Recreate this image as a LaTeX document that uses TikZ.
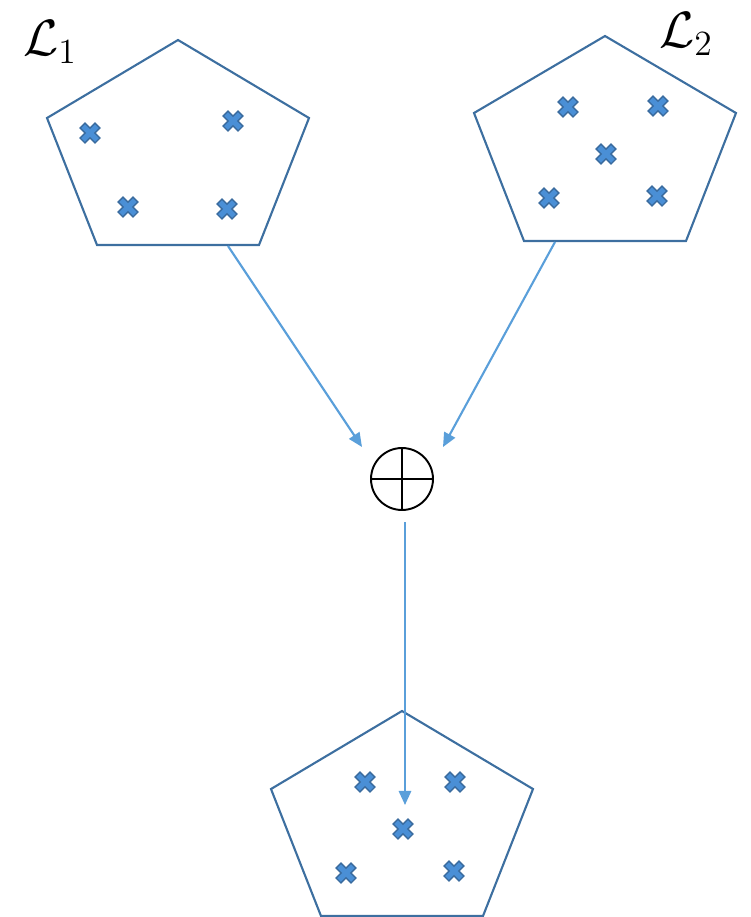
\documentclass[tikz,border=0pt]{standalone}
\usepackage{amsmath}
\usepackage{amssymb}
\usetikzlibrary{arrows.meta}
\definecolor{penblue}{HTML}{3D6FA0}
\definecolor{arrblue}{HTML}{5A9FDA}
\definecolor{crossfill}{HTML}{4A8FD6}
\definecolor{crossdraw}{HTML}{3A6B9E}

\begin{document}
\begin{tikzpicture}[
  x=0.02cm, y=-0.02cm,
  pent/.style={draw=penblue, line width=1.2pt, line join=miter},
  arr/.style={-{Triangle[length=8pt, width=7pt]}, draw=arrblue,
              line width=1.2pt},
  lab/.style={font=\huge, scale=1.4, inner sep=0pt},
  sumnode/.style={circle, draw, line width=1.1pt, minimum size=1.24cm,
                  inner sep=0pt},
  xmark/.pic={\filldraw[fill=crossfill, draw=crossdraw, line width=0.8pt,
                        rotate=45]
      (3.4,3.4) -- (10.6,3.4) -- (10.6,-3.4) -- (3.4,-3.4) -- (3.4,-10.6)
      -- (-3.4,-10.6) -- (-3.4,-3.4) -- (-10.6,-3.4) -- (-10.6,3.4)
      -- (-3.4,3.4) -- (-3.4,10.6) -- (3.4,10.6) -- cycle;}
]
\useasboundingbox (0,0) rectangle (751,917);

% ----- set L1 -----
\draw[pent] (178,40) -- (309,118) -- (259,245) -- (97,245) -- (47,118) -- cycle;
\node[lab] (l1) at (50,42) {$\mathcal{L}_1$};
\pic at (90,133) {xmark};
\pic at (233,121) {xmark};
\pic at (128,207) {xmark};
\pic at (227,209) {xmark};
\coordinate (out1) at (228,246);

% ----- set L2 -----
\draw[pent] (605,36) -- (736,113) -- (686,241) -- (524,241) -- (474,113) -- cycle;
\node[lab] (l2) at (686,34) {$\mathcal{L}_2$};
\pic at (568,107) {xmark};
\pic at (658,106) {xmark};
\pic at (606,154) {xmark};
\pic at (549,198) {xmark};
\pic at (657,196) {xmark};
\coordinate (out2) at (555,242);

% ----- combination -----
\node[sumnode] (sum) at (402,479) {};
\draw[line width=1.1pt] (sum.north) -- (sum.south);
\draw[line width=1.1pt] (sum.west) -- (sum.east);
\coordinate (in1) at (362,447);
\coordinate (in2) at (443,447);
\coordinate (sumout) at (405,522);

% ----- merged set -----
\draw[pent] (402,711) -- (533,789) -- (483,916) -- (321,916) -- (271,789) -- cycle;
\pic at (365,782) {xmark};
\pic at (455,782) {xmark};
\pic at (403,829) {xmark};
\pic at (346,873) {xmark};
\pic at (454,871) {xmark};
\coordinate (in3) at (405,805);

% ----- arrows -----
\draw[arr] (out1) -- (in1);
\draw[arr] (out2) -- (in2);
\draw[arr] (sumout) -- (in3);

\end{tikzpicture}
\end{document}
